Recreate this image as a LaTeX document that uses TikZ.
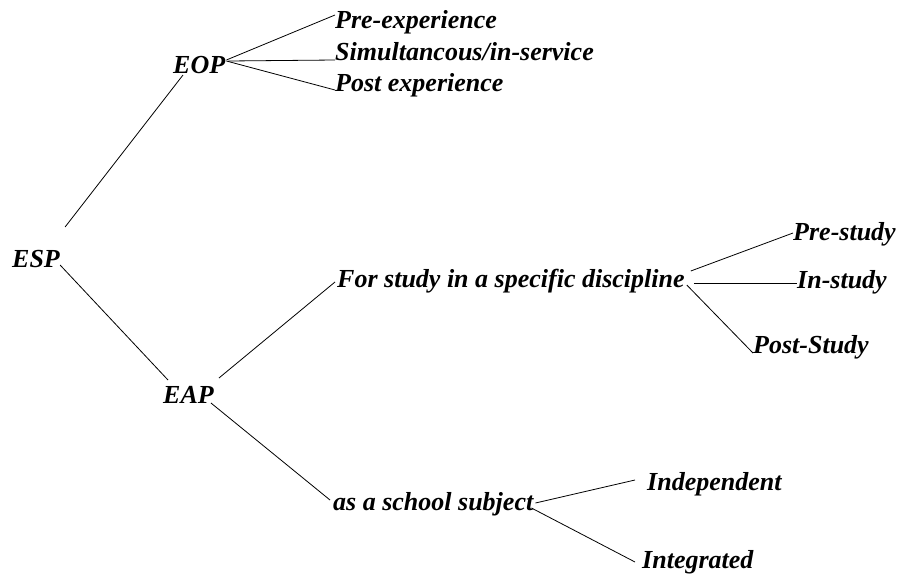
\documentclass[tikz,border=0pt]{standalone}
\usepackage{fontspec}
\setmainfont{Liberation Serif}
\usetikzlibrary{calc}
\begin{document}
\begin{tikzpicture}[x=1pt,y=-1pt,
  lbl/.style={anchor=base west,inner sep=0pt,font=\fontsize{26}{28}\selectfont\bfseries\itshape},
  branch/.style={line width=0.8pt}]
\useasboundingbox (0,0) rectangle (899,573);
% root and first level
\node[lbl] (esp) at (12,267) {ESP};
\node[lbl] (eop) at (173,73) {EOP};
\node[lbl] (eap) at (163,403) {EAP};
% kinds of EOP
\node[lbl] (pre)  at (335,28) {Pre-experience};
\node[lbl] (sim)  at (335,60) {Simultancous/in-service};
\node[lbl] (post) at (335,91) {Post experience};
% kinds of EAP
\node[lbl] (disc) at (337,287) {For study in a specific discipline};
\node[lbl] (sch)  at (333,510) {as a school subject};
% discipline stages
\node[lbl] (pst) at (793,240) {Pre-study};
\node[lbl] (ist) at (797,288) {In-study};
\node[lbl] (ost) at (753,353) {Post-Study};
% school subject types
\node[lbl] (ind) at (647,490) {Independent};
\node[lbl] (int) at (642,568) {Integrated};
% connectors
\draw[branch] ($(esp.base east)+(5,-40)$) -- ($(eop.base west)+(10,2)$);
\draw[branch] ($(esp.base east)+(0,-2)$) -- ($(eap.base west)+(5,-23)$);
\draw[branch] ($(eop.base east)+(1,-13)$) -- ($(pre.base west)+(0,-13)$);
\draw[branch] ($(eop.base east)+(3,-12)$) -- ($(sim.base west)+(0,0)$);
\draw[branch] ($(eop.base east)+(1,-12)$) -- ($(post.base west)+(0,-1)$);
\draw[branch] ($(eap.base east)+(5,-25)$) -- ($(disc.base west)+(-2,-5)$);
\draw[branch] ($(eap.base east)+(-3,0)$) -- ($(sch.base west)+(-3,-10)$);
\draw[branch] ($(disc.base east)+(6,-16)$) -- ($(pst.base west)+(0,-7)$);
\draw[branch] ($(disc.base east)+(9,-4)$) -- ($(ist.base west)+(0,-5)$);
\draw[branch] ($(disc.base east)+(2,-2)$) -- ($(ost.base west)+(0,0)$);
\draw[branch] ($(sch.base east)+(2,-7)$) -- ($(ind.base west)+(-12,-10)$);
\draw[branch] ($(sch.base east)+(-2,-2)$) -- ($(int.base west)+(-7,-6)$);
\end{tikzpicture}
\end{document}
